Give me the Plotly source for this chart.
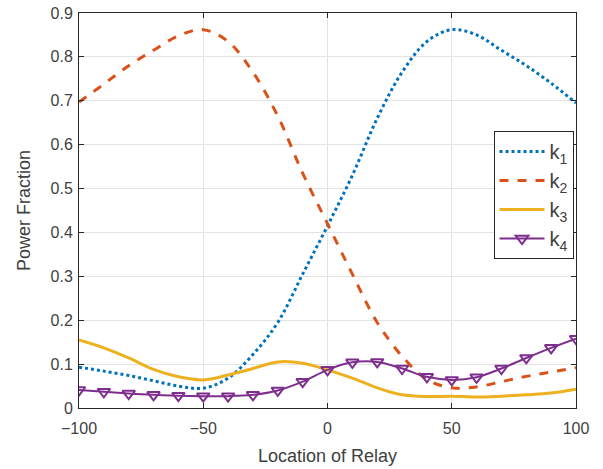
import plotly.graph_objects as go

x = [-100, -90, -80, -70, -60, -50, -40, -30, -20, -10, 0, 10, 20, 30, 40, 50, 60, 70, 80, 90, 100]
k1 = [0.093, 0.084, 0.074, 0.062, 0.05, 0.045, 0.068, 0.122, 0.195, 0.305, 0.415, 0.53, 0.66, 0.765, 0.835, 0.862, 0.85, 0.815, 0.78, 0.74, 0.695]
k2 = [0.697, 0.738, 0.78, 0.815, 0.848, 0.862, 0.835, 0.765, 0.665, 0.535, 0.42, 0.305, 0.195, 0.118, 0.065, 0.046, 0.048, 0.06, 0.072, 0.082, 0.092]
k3 = [0.155, 0.137, 0.114, 0.088, 0.071, 0.064, 0.075, 0.09, 0.105, 0.102, 0.087, 0.068, 0.046, 0.03, 0.026, 0.027, 0.025, 0.027, 0.03, 0.034, 0.043]
k4 = [0.041, 0.037, 0.033, 0.03, 0.028, 0.027, 0.027, 0.03, 0.04, 0.06, 0.087, 0.104, 0.105, 0.09, 0.071, 0.064, 0.07, 0.09, 0.114, 0.137, 0.158]
names = ["k<sub>1</sub>", "k<sub>2</sub>", "k<sub>3</sub>", "k<sub>4</sub>"]
xticks = [-100, -50, 0, 50, 100]
yticks = [0, 0.1, 0.2, 0.3, 0.4, 0.5, 0.6, 0.7, 0.8, 0.9]
ytick_labels = ["0", "0.1", "0.2", "0.3", "0.4", "0.5", "0.6", "0.7", "0.8", "0.9"]

fig = go.Figure()
fig.add_trace(go.Scatter(x=x, y=k1, name=names[0], mode="lines",
                         line=dict(color="#0072BD", width=3, dash="dot", shape="spline")))
fig.add_trace(go.Scatter(x=x, y=k2, name=names[1], mode="lines",
                         line=dict(color="#D95319", width=3, dash="dash", shape="spline")))
fig.add_trace(go.Scatter(x=x, y=k3, name=names[2], mode="lines",
                         line=dict(color="#EDB120", width=3, shape="spline")))
fig.add_trace(go.Scatter(x=x, y=k4, name=names[3], mode="lines+markers",
                         line=dict(color="#7E2F8E", width=2, shape="spline"),
                         marker=dict(symbol="triangle-down-open", size=11,
                                     line=dict(color="#7E2F8E", width=2))))

FONT = "Liberation Sans, Arial"
TXT = "#404040"
axis_common = dict(showline=True, linecolor="#262626", linewidth=1, mirror="ticks",
                   ticks="inside", ticklen=5, tickcolor="#262626", automargin=False,
                   showgrid=True, gridcolor="#E3E3E3", gridwidth=1, zeroline=False,
                   tickfont=dict(family=FONT, size=16, color=TXT))

fig.update_layout(
    width=603, height=469,
    margin=dict(l=79, r=27, t=13, b=61),
    paper_bgcolor="white", plot_bgcolor="white",
    font=dict(family=FONT, color=TXT),
    xaxis=dict(range=[-100, 100], tickvals=xticks, ticklabelstandoff=6,
               title=dict(text="Location of Relay", font=dict(size=18, color=TXT), standoff=13),
               **axis_common),
    yaxis=dict(range=[0, 0.9], tickvals=yticks, ticktext=ytick_labels, ticklabelstandoff=2,
               title=dict(text="Power Fraction", font=dict(size=18, color=TXT), standoff=15),
               **axis_common),
    legend=dict(x=0.995, y=0.701, xanchor="right", yanchor="top",
                bordercolor="#262626", borderwidth=1, bgcolor="white",
                font=dict(size=20, family=FONT, color=TXT),
                tracegroupgap=0, itemwidth=45),
    showlegend=True,
)

fig.write_html("out.html")
